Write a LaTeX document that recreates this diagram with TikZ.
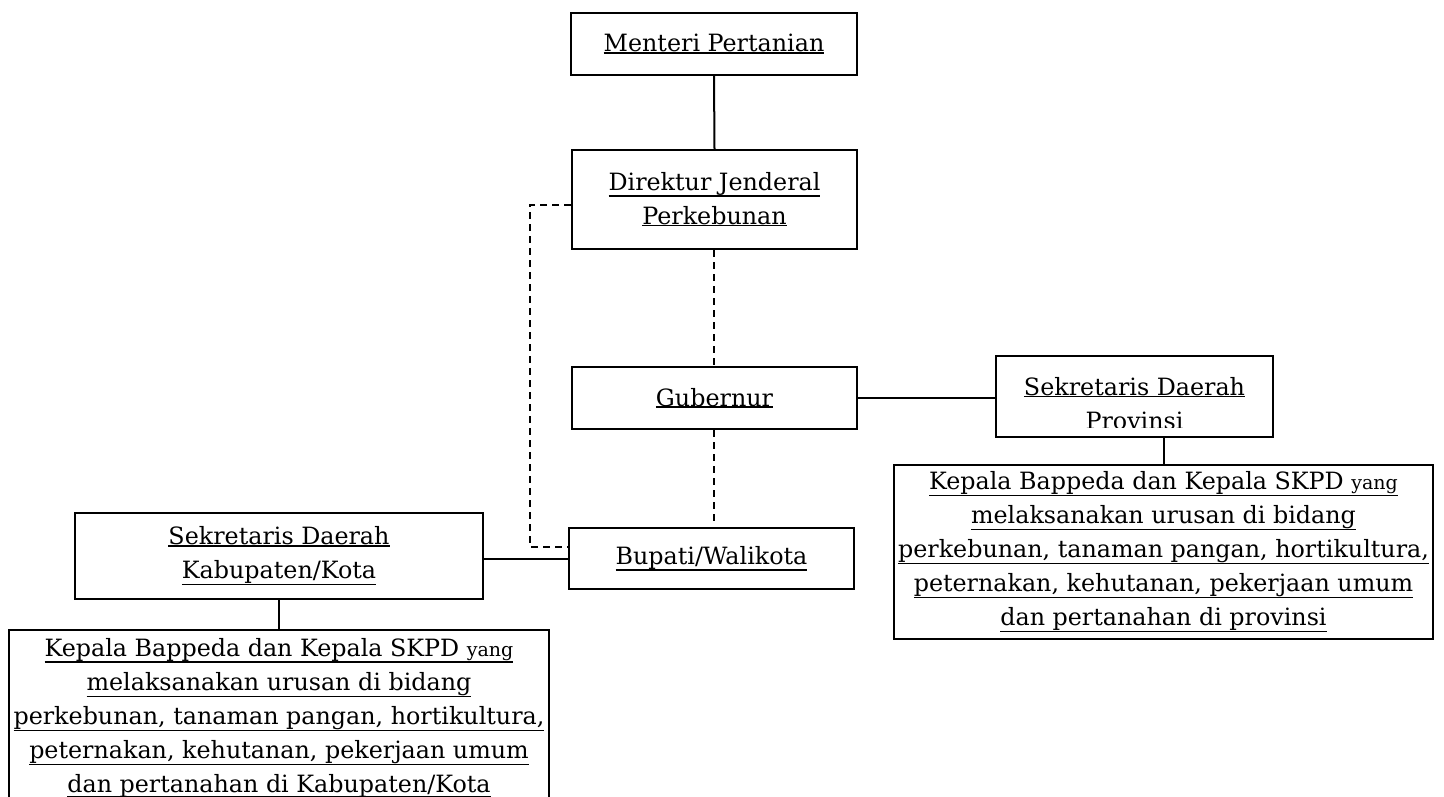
\documentclass[tikz,border=0pt]{standalone}
\usepackage{fontspec}
\setmainfont{DejaVu Serif}
\newsavebox\ulbox
\newcommand\ulx[1]{\sbox\ulbox{#1}\leavevmode\rlap{\usebox\ulbox}\raisebox{-\dimexpr\dp\ulbox+1.2pt\relax}{\rule{\wd\ulbox}{1.5pt}}}
\newcommand\ulxfix[1]{\sbox\ulbox{#1}\leavevmode\rlap{\usebox\ulbox}\raisebox{-4.5pt}{\rule{\wd\ulbox}{1.5pt}}}
\newcommand\smallyang{{\fontsize{19}{34}\selectfont yang}}
\begin{document}
\begin{tikzpicture}[x=1pt,y=-1pt,
  box/.style={draw, line width=2pt, inner sep=0pt, align=center,
              font=\fontsize{23.8}{34}\selectfont},
  txt/.style={inner sep=0pt, align=center, font=\fontsize{23.8}{34}\selectfont},
  solidline/.style={line width=2pt},
  dashline/.style={line width=2pt, dash pattern=on 7pt off 5pt}]
\useasboundingbox (0,0) rectangle (1444,797);
\clip (0,0) rectangle (1444,797);

\node[box, minimum width=286pt, minimum height=62pt] (menteri) at (714,44) {\ulx{Menteri Pertanian}};
\node[box, minimum width=285pt, minimum height=99pt] (dirjen) at (714.5,199.5) {\ulx{Direktur Jenderal}\\\ulx{Perkebunan}};
\node[box, minimum width=285pt, minimum height=62pt] (gub) at (714.5,398) {\ulx{Gubernur}};
\node[box, minimum width=285pt, minimum height=61pt] (bupati) at (711.5,558.5) {\ulx{Bupati/Walikota}};
\node[box, minimum width=408pt, minimum height=86pt] (sekkab) at (279,556) {\ulx{Sekretaris Daerah}\\\ulx{Kabupaten/Kota}};
\node[box, minimum width=540pt, minimum height=176pt] (kepkab) at (279,718)
  {\ulx{Kepala Bappeda dan Kepala SKPD \smallyang}\\
   \ulx{melaksanakan urusan di bidang}\\
   \ulx{perkebunan, tanaman pangan, hortikultura,}\\
   \ulx{peternakan, kehutanan, pekerjaan umum}\\
   \ulxfix{dan pertanahan di Kabupaten/Kota}};
\node[box, minimum width=277pt, minimum height=81pt] (sekprov) at (1134.5,396.5) {};
\begin{scope}
  \clip (sekprov.north west) rectangle ([yshift=11pt]sekprov.south east);
  \node[txt] (sekprovtext) at (1134.5,404) {\ulx{Sekretaris Daerah}\\Provinsi};
\end{scope}
\node[box, minimum width=539pt, minimum height=174pt] (kepprov) at (1163.5,552)
  {\ulx{Kepala Bappeda dan Kepala SKPD \smallyang}\\
   \ulx{melaksanakan urusan di bidang}\\
   \ulx{perkebunan, tanaman pangan, hortikultura,}\\
   \ulx{peternakan, kehutanan, pekerjaan umum}\\
   \ulx{dan pertanahan di provinsi}};

\draw[solidline] (menteri.south) -- (dirjen.north);
\draw[dashline] (dirjen.south -| menteri.south) -- (gub.north -| menteri.south);
\draw[dashline] (gub.south -| menteri.south) -- ([yshift=5pt]bupati.north -| menteri.south);
\coordinate (dA) at (530,205);
\coordinate (dB) at (530,547);
\draw[dashline] ([yshift=-5.5pt]dirjen.west) -- (dA) -- (dB) -- ([yshift=11.5pt]bupati.west);
\draw[solidline] (gub.east) -- (gub.east -| sekprov.west);
\draw[solidline] (kepprov.north |- sekprov.south) -- (kepprov.north);
\draw[solidline] (bupati.west) -- (bupati.west -| sekkab.east);
\draw[solidline] (sekkab.south) -- (kepkab.north);
\end{tikzpicture}
\end{document}
